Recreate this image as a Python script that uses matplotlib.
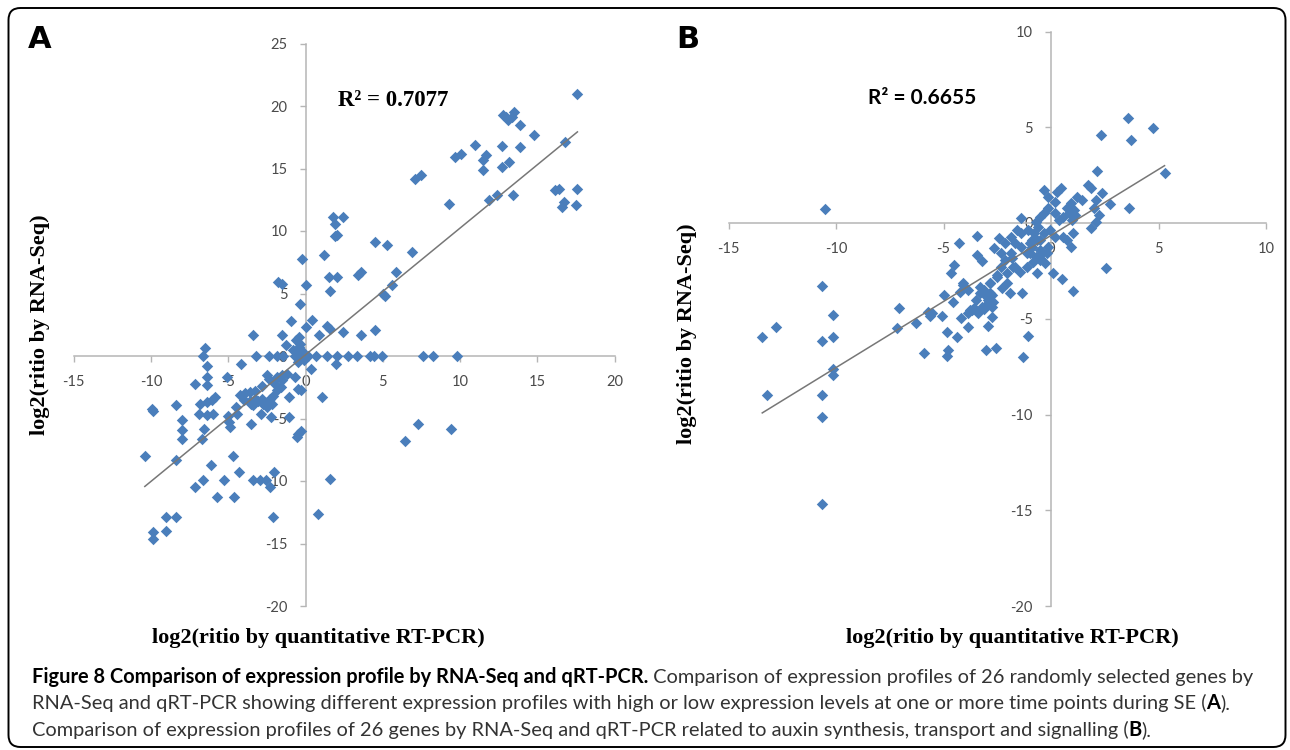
import numpy as np
import matplotlib.pyplot as plt
from matplotlib.patches import FancyBboxPatch

plt.rcParams['axes.unicode_minus'] = False

W, H = 1290, 750

# ---- panel A: log2 ratio qRT-PCR (x) vs RNA-Seq (y)
a_x = [17.6, 12.8, 13.0, 13.1, 13.5, 13.35, 13.9, 14.8, 16.8, 11.0, 12.7, 13.9, 9.7, 10.05,
       11.7, 11.5, 11.5, 12.7, 13.2, 7.1, 7.45, 9.3, 11.9, 12.4, 13.45, 16.15, 16.4, 16.7,
       16.6, 17.55, 17.5, 1.8, 2.45, 1.9, 1.9, 2.05, 4.5, 5.3, 6.9, 1.2, -0.25,
       3.4, 3.6, 5.85, 1.5, 2.05, -1.8, -1.5, 0.03, 1.6, 5.0, 5.15, 5.6, -0.35, -0.95, 0.45,
       0.0, 1.4, 1.6, 0.9, 2.45, 3.6, 4.5, -3.4, -1.55, -1.26, -0.6, -0.4,
       -6.65, -3.2, -2.34, -1.86, -1.44, -0.68, -0.36, 0.18, 0.68, 1.37, 2.06, 2.77, 3.31,
       4.17, 4.43, 4.93, 7.59, 8.27, 9.83,
       -0.35, -0.45, -0.2, -0.6, -0.3, -0.1, -0.8, -0.5,
       -6.5, -6.4, -4.2, 1.97, 0.36, -2.5, -1.54, -1.2, -0.68, -0.47, -0.31, 1.05, -1.1,
       -6.35, -7.15, -6.4, -5.06, -2.34, -1.86, -1.54, -2.8, -2.0, -1.6, -3.3,
       -9.95, -9.9, -8.4, -8.0, -8.0, -8.0, -10.4, -8.4, -6.83, -6.4, -6.07, -5.86, -6.9,
       -6.4, -6.0, -6.6, -6.7, -6.1, -7.15, -6.65, -5.7, -5.26, -4.6, -4.67, -4.28, -3.42,
       -2.95, -2.56, -2.3, -2.04, -2.12, -9.0, -8.4, -9.0, -9.9, -9.9, 0.83, 1.6, -0.57,
       -0.47, -0.31, -1.09, -2.25, -2.88, -3.53, -5.0, -4.93, -4.9, -4.5, -4.45, 6.44, 7.3,
       9.42,
       -4.24, -3.9, -3.6, -4.0, -3.6, -3.27, -3.4, -3.05, -2.84, -2.73, -2.51, -2.3, -2.19,
       -2.47, -2.08, -1.86, -3.55]
a_y = [21.0, 19.3, 19.1, 18.9, 19.5, 19.1, 18.5, 17.7, 17.1, 16.9, 16.8, 16.7, 15.9, 16.2,
       16.1, 15.7, 14.9, 15.1, 15.5, 14.2, 14.5, 12.2, 12.5, 12.9, 12.9, 13.3, 13.4, 12.3,
       11.9, 13.4, 12.1, 11.1, 11.1, 10.6, 9.6, 9.7, 9.1, 8.9, 8.3, 8.1, 7.8,
       6.5, 6.7, 6.75, 6.3, 6.3, 5.9, 5.75, 5.7, 5.2, 5.0, 4.8, 5.7, 4.2, 2.8, 2.9,
       2.3, 2.4, 2.2, 1.7, 1.9, 1.7, 2.1, 1.7, 1.7, 0.9, 1.3, 1.5,
       0.0, 0.0, 0.0, 0.0, 0.0, 0.0, 0.0, 0.0, 0.0, 0.0, 0.0, 0.0, 0.0,
       0.0, 0.0, 0.0, 0.0, 0.0, 0.0,
       1.0, 0.7, 0.4, 0.3, 0.1, -0.3, 0.5, -0.5,
       0.66, -0.8, -0.6, -0.66, -1.07, -1.5, -1.5, -1.4, -1.65, -2.6, -2.7, -3.3, -3.3,
       -1.65, -2.2, -2.3, -1.65, -1.8, -1.65, -1.9, -2.4, -2.2, -2.5, -2.8,
       -4.2, -4.4, -3.9, -5.1, -5.9, -6.6, -8.0, -8.3, -3.8, -3.65, -3.5, -3.3, -4.6,
       -4.7, -4.6, -5.8, -6.6, -8.7, -10.5, -9.9, -11.25, -9.9, -11.25, -8.0, -9.25, -9.9,
       -9.9, -9.9, -10.5, -9.25, -12.85, -12.85, -12.85, -14.0, -14.05, -14.6, -12.65, -9.8, -6.45,
       -6.2, -6.0, -4.85, -4.9, -4.6, -5.4, -4.8, -5.3, -5.65, -4.05, -4.6, -6.8, -5.47,
       -5.8,
       -3.12, -2.98, -2.9, -3.5, -3.6, -3.4, -3.9, -3.6, -3.4, -3.8, -3.65, -3.4, -3.8,
       -4.05, -3.2, -2.7, -3.85]
a_fit = (1.013, 0.10)   # slope, intercept of the trendline
a_r2 = 'R² = 0.7077'
a_xticks = [-15, -10, -5, 0, 5, 10, 15, 20]
a_yticks = [-20, -15, -10, -5, 0, 5, 10, 15, 20, 25]

# ---- panel B
b_x = [-10.5, -10.63, -10.15, -7.07, -13.43, -12.81, -13.23, -10.63, -10.15, -10.15, -10.15,
       -10.63, -10.63, -10.63, -7.16, -6.29,
       3.6, 4.76, 3.73, 2.34, 2.15, 5.28, 3.64, 2.73, 2.58, 1.04, 0.51, 0.11,
       -4.27, -3.44, -4.52, -4.66, -2.44, -2.67, -3.21, -3.46, -4.11, -4.98, -4.56, -1.38,
       -0.32, -0.12, 0.46, 0.27, 0.17, 1.71, 1.86, 1.23, 1.42, 0.94, 1.09, 0.84, 1.13, 0.98,
       0.74, 0.55, 2.09, 2.39, 2.0, 2.23, 2.09, 1.86, 1.04, 0.55, 0.94, 0.74,
       -1.38, -1.09, -0.8, -0.6, -0.89, -0.51, -0.32, -0.03, 0.17, -0.12, -0.41, -0.7, -0.51,
       -0.99, -1.38, -1.67, -1.86, -2.15, -1.76, -2.05, -2.34, -2.53, -2.82, -3.11, -2.73,
       -2.92, -3.3, -3.5, -3.21, -3.69, -3.4, -3.88, -2.34, -2.15, -1.86, -1.57, -0.99,
       -0.51, -0.32, -0.7, 0.17, 0.36, -0.12,
       -5.72, -5.62, -5.52, -5.08, -5.91, -4.85, -4.81, -4.85, -4.36, -4.17, -3.88, -3.79,
       -3.6, -3.11, -3.01, -2.76, -2.69, -2.76, -2.92, -3.01, -2.57, -1.32, -1.05,
       -1.36, -1.67, -1.44, -1.13, -0.82, -0.67, -0.51, -0.28, -0.2, -1.13, -0.9, -0.67,
       -0.51, -1.83, -2.53, -2.84, -3.3, -3.15, -2.84, -2.99, -4.08, -3.85, -4.23, -2.29,
       -2.06, -1.91]
b_y = [0.71, -3.29, -4.8, -4.46, -5.94, -5.41, -8.98, -6.16, -5.94, -7.64, -7.94,
       -8.98, -10.11, -14.69, -5.47, -5.2,
       5.47, 4.98, 4.33, 4.6, 2.72, 2.63, 0.77, 0.99, -2.33, -3.55, -2.94, -2.63,
       -1.03, -0.68, -2.19, -2.59, -0.8, -1.32, -1.98, -1.67, -3.24, -3.76, -4.13, 0.24,
       1.72, 1.37, 1.81, 1.64, 1.11, 1.98, 1.81, 1.37, 1.2, 1.03, 0.68, 0.51, 0.42, 0.16,
       0.77, 0.33, 1.2, 1.55, 0.77, 0.42, 0.07, -0.28, -0.54, -0.71, -1.24, -0.89,
       -0.54, -0.37, -0.54, -0.19, -0.89, -0.89, -0.54, -0.37, -0.71, -1.24, -1.58, -1.76, -1.93,
       -1.58, -1.24, -1.06, -1.58, -1.93, -2.28, -2.63, -2.28, -2.8, -3.15, -3.5, -3.76,
       -4.02, -3.67, -4.02, -4.37, -4.54, -4.72, -4.72, -1.58, -1.06, -0.71, -0.37, -1.06,
       0.33, 0.51, 0.07, 0.51, 0.16, 0.77,
       -4.63, -4.86, -4.72, -4.86, -6.8, -5.68, -6.63, -6.95, -5.94, -4.98, -5.45, -4.54,
       -4.46, -4.51, -4.28, -4.37, -4.11, -4.89, -5.38, -6.63, -6.51, -6.98, -5.9,
       -3.67, -2.28, -2.54, -2.28, -2.02, -2.63, -1.84, -2.1, -1.58, -1.58, -1.24, -0.89,
       -1.41, -1.84, -2.72, -3.15, -3.33, -3.59, -3.67, -3.85, -3.15, -3.5, -3.59, -3.41,
       -3.15, -3.67]
b_fit = (0.69, -0.65)
b_r2 = 'R² = 0.6655'
b_xticks = [-15, -10, -5, 0, 5, 10]
b_yticks = [-20, -15, -10, -5, 0, 5, 10]

point_color = '#4a7ebb'
axis_color = '#b5b5b5'


def fx(px):
    return px / W


def fy(py):
    return 1 - py / H


def setup(ax, xticks, yticks):
    ax.set_xlim(xticks[0], xticks[-1])
    ax.set_ylim(yticks[0], yticks[-1])
    ax.spines['top'].set_visible(False)
    ax.spines['right'].set_visible(False)
    ax.spines['left'].set_position(('data', 0))
    ax.spines['bottom'].set_position(('data', 0))
    for s in ['left', 'bottom']:
        ax.spines[s].set_color(axis_color)
        ax.spines[s].set_linewidth(1.1)
    ax.set_xticks(xticks)
    ax.set_yticks(yticks)
    ax.tick_params(direction='out', length=4, width=1.0, color=axis_color,
                   labelcolor='#4a4a4a', labelsize=10.5)
    ax.tick_params(axis='x', pad=10)
    ax.tick_params(axis='y', pad=9)
    for lab in ax.get_xticklabels() + ax.get_yticklabels():
        lab.set_family('Lato')
    ax.patch.set_alpha(0)


def panel(ax, x, y, fit):
    ax.scatter(x, y, marker='D', s=34, color=point_color, linewidths=0, zorder=3)
    xs = np.array([min(x), max(x)])
    ax.plot(xs, fit[0] * xs + fit[1], color='#777777', lw=1.1, zorder=4)


fig = plt.figure(figsize=(12.9, 7.5), dpi=100)

axA = fig.add_axes([fx(73.75), fy(606), (614.5 - 73.75) / W, (606 - 43.5) / H])
setup(axA, a_xticks, a_yticks)
panel(axA, a_x, a_y, a_fit)

axB = fig.add_axes([fx(728.5), fy(606), (1266 - 728.5) / W, (606 - 31.5) / H])
setup(axB, b_xticks, b_yticks)
panel(axB, b_x, b_y, b_fit)

# labels
lab_kw = dict(family='Liberation Serif', fontweight='bold', fontsize=16, color='black')
fig.text(fx(40), fy(325), 'log2(ritio by RNA-Seq)', rotation=90, ha='center', va='center', **lab_kw)
fig.text(fx(687), fy(334), 'log2(ritio by RNA-Seq)', rotation=90, ha='center', va='center', **lab_kw)
fig.text(fx(318), fy(638), 'log2(ritio by quantitative RT-PCR)', ha='center', va='center', **lab_kw)
fig.text(fx(1012), fy(638), 'log2(ritio by quantitative RT-PCR)', ha='center', va='center', **lab_kw)

fig.text(fx(393), fy(101), a_r2, ha='center', va='center', family='Liberation Serif',
         fontweight='bold', fontsize=16.5)
fig.text(fx(922), fy(98), b_r2, ha='center', va='center', family='Lato',
         fontweight='bold', fontsize=15)

fig.text(fx(40), fy(39), 'A', ha='center', va='center', family='DejaVu Sans',
         fontweight='bold', fontsize=22)
fig.text(fx(688), fy(39), 'B', ha='center', va='center', family='DejaVu Sans',
         fontweight='bold', fontsize=22)

# caption, mixed bold / regular runs
cap_lines = [
    [('Figure 8 Comparison of expression profile by RNA-Seq and qRT-PCR.', 'bold', 'black'),
     (' Comparison of expression profiles of 26 randomly selected genes by', 'normal', '#333333')],
    [('RNA-Seq and qRT-PCR showing different expression profiles with high or low expression '
      'levels at one or more time points during SE (', 'normal', '#333333'),
     ('A', 'bold', 'black'), (').', 'normal', '#333333')],
    [('Comparison of expression profiles of 26 genes by RNA-Seq and qRT-PCR related to auxin '
      'synthesis, transport and signalling (', 'normal', '#333333'),
     ('B', 'bold', 'black'), (').', 'normal', '#333333')],
]
cap_y = [677, 703, 730]
renderer = fig.canvas.get_renderer()
for parts, yy in zip(cap_lines, cap_y):
    xpos = 32
    for txt, wt, col in parts:
        t = fig.text(fx(xpos), fy(yy), txt, ha='left', va='center', family='Lato',
                     fontweight=wt, fontsize=14.4, color=col)
        xpos += t.get_window_extent(renderer).width

# rounded frame
frame = FancyBboxPatch((0.085, 0.03), 12.77, 7.39, boxstyle='round,pad=0,rounding_size=0.12',
                       transform=fig.dpi_scale_trans, fill=False, lw=1.4, ec='black')
fig.add_artist(frame)

plt.savefig('out.png', dpi=100)
